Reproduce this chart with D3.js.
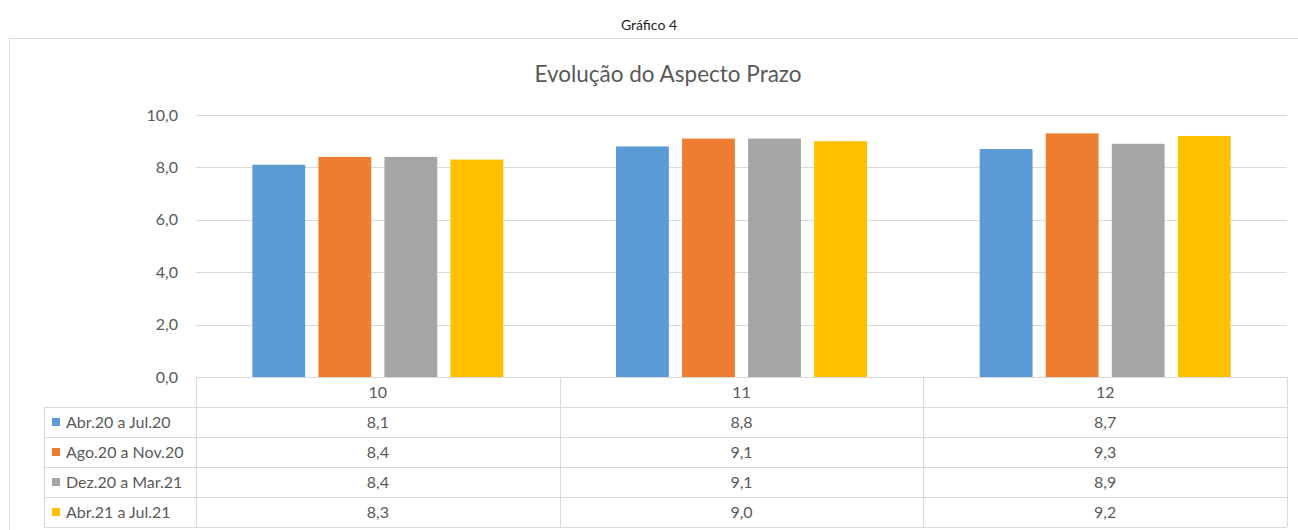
<!DOCTYPE html>
<html><head><meta charset="utf-8">
<script src="https://cdn.jsdelivr.net/npm/d3@7"></script>
<style>
html,body{margin:0;padding:0;background:#fff;}
svg text{font-family:Lato,"Open Sans",sans-serif;}
</style></head>
<body>
<svg id="c" width="1298" height="530"></svg>
<script>
const categories = ["10", "11", "12"];
const seriesNames = ["Abr.20 a Jul.20", "Ago.20 a Nov.20", "Dez.20 a Mar.21", "Abr.21 a Jul.21"];
const seriesAbr20 = [8.1, 8.8, 8.7];
const seriesAgo20 = [8.4, 9.1, 9.3];
const seriesDez20 = [8.4, 9.1, 8.9];
const seriesAbr21 = [8.3, 9.0, 9.2];
const yTicks = [0, 2, 4, 6, 8, 10];
const colors = ["#5B9BD5", "#ED7D31", "#A5A5A5", "#FFC000"];
const pageTitle = "Gráfico 4";
const chartTitle = "Evolução do Aspecto Prazo";

const seriesValues = [seriesAbr20, seriesAgo20, seriesDez20, seriesAbr21];
const fmt = v => d3.format(".1f")(v).replace(".", ",");

const svg = d3.select("#c");
const grid = "#D9D9D9", txt = "#595959";
const L = 196, R = 1287, T = 115, B = 377;
const tableLeft = 44, rowH = 30, headerBottom = 407;
const fs = 16;

// page caption
svg.append("text").attr("x", 649).attr("y", 30).attr("text-anchor", "middle")
  .attr("font-size", 14).attr("fill", "#222").text(pageTitle);

// outer chart border
svg.append("rect").attr("x", 9.5).attr("y", 38.5).attr("width", 1300).attr("height", 520)
  .attr("fill", "none").attr("stroke", "#D9D9D9");

svg.append("text").attr("x", 668).attr("y", 82).attr("text-anchor", "middle")
  .attr("font-size", 22.5).attr("fill", txt).text(chartTitle);

const y = d3.scaleLinear().domain([0, 10]).range([B, T]);
const x0 = d3.scaleBand().domain(categories).range([L, R]).paddingInner(0.31).paddingOuter(0.155);
const x1 = d3.scaleBand().domain(d3.range(seriesNames.length)).range([0, x0.bandwidth()]).paddingInner(0.2);

// gridlines
svg.append("g").selectAll("line").data(yTicks.filter(d => d > 0)).join("line")
  .attr("x1", L).attr("x2", R).attr("y1", d => Math.round(y(d)) + 0.5).attr("y2", d => Math.round(y(d)) + 0.5)
  .attr("stroke", grid);

// y axis labels
const yAxis = d3.axisLeft(y).tickValues(yTicks).tickFormat(fmt).tickSize(0).tickPadding(18);
const ya = svg.append("g").attr("transform", `translate(${L},0)`).call(yAxis);
ya.select(".domain").remove();
ya.selectAll("text").attr("font-size", fs).attr("fill", txt).attr("font-family", "Lato,'Open Sans',sans-serif");

// bars
const g = svg.append("g");
categories.forEach((c, ci) => {
  seriesValues.forEach((vals, si) => {
    g.append("rect")
      .attr("x", x0(c) + x1(si)).attr("width", x1.bandwidth())
      .attr("y", y(vals[ci])).attr("height", y(0) - y(vals[ci]))
      .attr("fill", colors[si]);
  });
});

// table
const tg = svg.append("g").attr("stroke", grid).attr("fill", "none");
const tableBottom = headerBottom + rowH * seriesNames.length;
tg.append("line").attr("x1", L).attr("x2", R).attr("y1", B + 0.5).attr("y2", B + 0.5);
d3.range(seriesNames.length + 1).forEach(i => {
  const yy = headerBottom + i * rowH + 0.5;
  tg.append("line").attr("x1", tableLeft).attr("x2", R).attr("y1", yy).attr("y2", yy);
});
tg.append("line").attr("x1", tableLeft + 0.5).attr("x2", tableLeft + 0.5).attr("y1", headerBottom).attr("y2", tableBottom);
const colEdges = [L].concat(categories.map(c => x0(c) + x0.bandwidth() + x0.step() * x0.paddingInner() / 2));
colEdges[colEdges.length - 1] = R;
colEdges.forEach(xx => {
  tg.append("line").attr("x1", Math.round(xx) + 0.5).attr("x2", Math.round(xx) + 0.5).attr("y1", B).attr("y2", tableBottom);
});

categories.forEach(c => {
  svg.append("text").attr("x", x0(c) + x0.bandwidth() / 2).attr("y", (B + headerBottom) / 2 + 6)
    .attr("text-anchor", "middle").attr("font-size", fs).attr("fill", txt).text(c);
});

seriesNames.forEach((name, si) => {
  const cy = headerBottom + si * rowH + rowH / 2;
  svg.append("rect").attr("x", 52).attr("y", cy - 4).attr("width", 8).attr("height", 8).attr("fill", colors[si]);
  svg.append("text").attr("x", 66).attr("y", cy + 6).attr("font-size", fs).attr("fill", txt).text(name);
  categories.forEach((c, ci) => {
    svg.append("text").attr("x", x0(c) + x0.bandwidth() / 2).attr("y", cy + 6)
      .attr("text-anchor", "middle").attr("font-size", fs).attr("fill", txt).text(fmt(seriesValues[si][ci]));
  });
});
</script>
</body></html>
